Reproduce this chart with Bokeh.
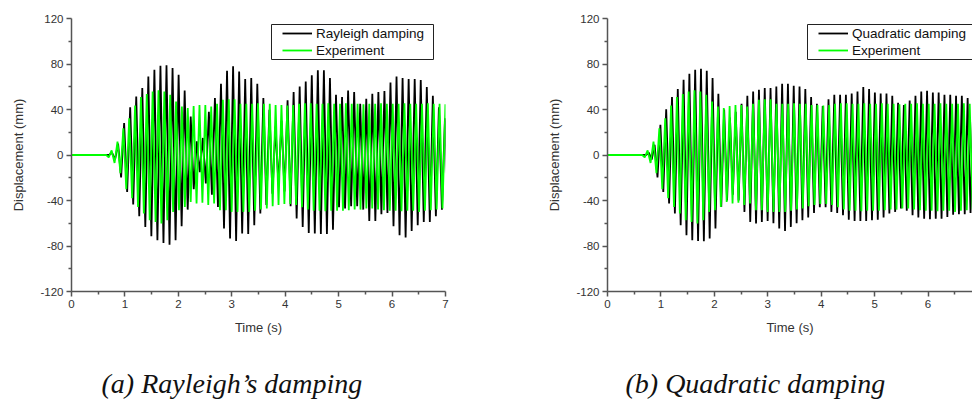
import numpy as np
from bokeh.plotting import figure
from bokeh.models import (FixedTicker, Legend, LegendItem, BoxAnnotation, Range1d, Title,
                          LinearAxis)
from bokeh.layouts import row
from bokeh.embed import file_html
from bokeh.resources import INLINE

# ---------------- data ----------------
x_ticks = [0, 1, 2, 3, 4, 5, 6, 7]
x_minor = [0.5, 1.5, 2.5, 3.5, 4.5, 5.5, 6.5]
y_ticks = [-120, -80, -40, 0, 40, 80, 120]
y_tick_labels = ["-120", "-80", "-40", "0", "40", "80", "120"]
y_minor = [-100, -60, -20, 20, 60, 100]

# Rayleigh damping model (black, panel a): onset, first main peak time, period
rayleigh_onset, rayleigh_t0, rayleigh_period = 0.70, 0.985, 0.1133
rayleigh_pre = [2, -4, 10, -19.7]
rayleigh_max = [28, 42, 51.5, 58.8, 69, 75, 78.5, 78.8, 76.5, 70.6, 56.7, 33.8, 12, 15, 38, 50,
                62.6, 74, 78, 73.5, 66.8, 67.6, 62.6, 50, 39.7, 25, 30, 48, 55.3, 60.3, 64.7, 70,
                74.4, 74.4, 67.6, 53, 51, 56.7, 55.3, 45, 49.4, 53.8, 55.3, 56.2, 63.8, 69, 67.6,
                66.8, 66.8, 66, 59.7, 52, 42, 32.3]
rayleigh_min = [-32.4, -43.5, -53.8, -63.2, -71.5, -75, -77.4, -78.8, -75, -62.6, -48, -30, -15,
                -25, -35, -45.6, -64.7, -73.5, -75.6, -69, -69.5, -61.8, -51.5, -44, -34, -26, -32,
                -45, -55.9, -63.2, -68.5, -69.1, -69.5, -69.5, -65.6, -46, -47, -45, -45, -48, -58,
                -58, -52, -51, -62.6, -70.6, -72.6, -66.8, -61.8, -58.8, -58.8, -53.8, -48, -45]

# Quadratic damping model (black, panel b)
quad_onset, quad_t0, quad_period = 0.72, 0.99, 0.1085
quad_pre = [2, -4, 9, -19.7]
quad_max = [26.5, 40.3, 51, 58, 66.2, 71.5, 75, 75.9, 74.1, 67.6, 53.8, 40, 33, 38, 45, 52, 55.9,
            57.4, 58.8, 58.8, 60.3, 62.6, 62.6, 60.9, 60.3, 58, 51, 45, 43, 49, 53, 53, 53, 54,
            55.9, 59.7, 58, 55, 54, 54, 52, 46, 44, 48, 52, 55.9, 56.5, 55, 55, 53, 53, 52, 52,
            50, 49, 48]
quad_min = [-32.4, -42.6, -51.5, -61.8, -70.6, -75, -75.6, -75.9, -73.5, -64.7, -45.6, -40, -35,
            -40, -50, -58.8, -60.3, -58.8, -58, -60, -64.7, -66.8, -63.2, -60, -57.4, -55, -51,
            -46, -46, -50, -51, -53, -56.8, -58, -58, -58, -57.4, -56.8, -55, -51.5, -50, -47,
            -49, -53, -55, -56, -56.5, -56, -56, -54.5, -52.4, -52, -52, -51, -50, -50]

# Experiment (green, both panels)
exp_onset, exp_t0, exp_period = 0.65, 0.861, 0.1096
exp_pre = [-2, 4, -7]
exp_max = [11.8, 23.5, 32.3, 43.5, 51, 53.5, 55.9, 56.8, 55.9, 53, 47, 42.6, 41.2, 43, 44, 44,
           42.6, 45, 48.5, 49, 49, 45, 45,
           45, 45.5, 45, 45, 44, 44, 43.5, 44, 45, 45.5, 45.5, 45, 45, 45.5, 45, 45, 45.5, 45,
           45, 44.5, 45, 45, 45.5, 45, 45, 45, 45.5, 45, 45, 45, 45.5, 45, 45, 44.5]
exp_min = [-16, -30, -38, -45.6, -51.5, -57.4, -58.8, -60.3, -57.4, -50, -48.5, -45.6, -41.2,
           -42.6, -42, -44, -42.6, -48.5, -48.5, -50, -50, -50, -50,
           -49, -48, -47, -45, -44, -43, -43, -44, -46, -48, -49, -49, -49.5, -49, -49, -49,
           -48.5, -48, -48, -47, -47, -48, -48.5, -49, -49, -49.5, -49, -49, -50, -49, -48.5,
           -48, -47, -46]


def build_series(onset, t_first, period, pre, maxima, minima):
    """Alternating extrema, placed every half period, with a flat start."""
    h = period / 2.0
    ext = list(pre) + [v for pair in zip(maxima, minima) for v in pair]
    n_pre = len(pre)
    times = [t_first + (i - n_pre) * h for i in range(len(ext))]
    return [0.0, onset] + times, [0.0, 0.0] + ext


AX_COLOR = "#555555"
TXT_COLOR = "#333333"
GREEN = "#00FF00"
PX_PER_S = 374 / 7.0


def make_panel(model_t, model_y, model_label, caption, frame_w, border_l, border_r,
               cap_offset, box_right):
    p = figure(frame_width=frame_w, frame_height=273,
               min_border_left=border_l, min_border_right=border_r,
               min_border_top=18, min_border_bottom=116,
               x_range=Range1d(0, frame_w / PX_PER_S), y_range=Range1d(-120, 120),
               output_backend="svg", toolbar_location=None)
    p.grid.visible = False
    p.outline_line_color = None
    p.background_fill_color = "white"
    p.border_fill_color = "white"

    p.xaxis.ticker = FixedTicker(ticks=x_ticks, minor_ticks=x_minor)
    p.yaxis.ticker = FixedTicker(ticks=y_ticks, minor_ticks=y_minor)
    p.yaxis.major_label_overrides = {t: l for t, l in zip(y_ticks, y_tick_labels)}
    for ax in (p.xaxis[0], p.yaxis[0]):
        ax.axis_line_color = AX_COLOR
        ax.axis_line_width = 1.5
        ax.major_tick_line_color = AX_COLOR
        ax.major_tick_line_width = 1.5
        ax.major_tick_out = 5
        ax.major_tick_in = 0
        ax.minor_tick_line_color = AX_COLOR
        ax.minor_tick_line_width = 1.5
        ax.minor_tick_out = 3
        ax.minor_tick_in = 0
        ax.major_label_text_font = "Liberation Sans"
        ax.major_label_text_font_size = "11.5px"
        ax.major_label_text_color = TXT_COLOR
        ax.major_label_standoff = 3
    p.xaxis.axis_label = "Time (s)"
    p.xaxis.axis_label_text_font = "Liberation Sans"
    p.xaxis.axis_label_text_font_size = "13px"
    p.xaxis.axis_label_text_font_style = "normal"
    p.xaxis.axis_label_text_color = TXT_COLOR
    p.xaxis.axis_label_standoff = 9

    # label-only axis, bounded so that its title sits where the reference has it
    lab_axis = LinearAxis(bounds=(-104, 120), ticker=FixedTicker(ticks=[]),
                          axis_line_color=None, major_tick_line_color=None,
                          minor_tick_line_color=None, major_label_text_font_size="0px",
                          axis_label="Displacement (mm)", axis_label_standoff=12,
                          axis_label_text_font="Liberation Sans",
                          axis_label_text_font_size="13px",
                          axis_label_text_font_style="normal",
                          axis_label_text_color=TXT_COLOR)
    p.add_layout(lab_axis, "left")

    et, ey = build_series(exp_onset, exp_t0, exp_period, exp_pre, exp_max, exp_min)
    rb = p.line(model_t, model_y, line_color="black", line_width=1.8)
    rg = p.line(et, ey, line_color=GREEN, line_width=1.8)

    box = BoxAnnotation(left=200, right=box_right, bottom=232, top=267,
                        left_units="screen", right_units="screen",
                        bottom_units="screen", top_units="screen",
                        fill_color="white", fill_alpha=1.0,
                        line_color="#222222", line_width=1, line_alpha=1.0)
    p.add_layout(box)
    legend = Legend(items=[LegendItem(label=model_label, renderers=[rb]),
                           LegendItem(label="Experiment", renderers=[rg])],
                    location=(211, 233), orientation="vertical", padding=0, spacing=1,
                    margin=0, glyph_width=30, glyph_height=16, label_height=16,
                    label_standoff=4, label_text_font="Liberation Sans",
                    label_text_font_size="13.5px", label_text_color="#111111",
                    background_fill_alpha=0, border_line_alpha=0)
    p.add_layout(legend)

    p.add_layout(Title(text=caption, align="left", offset=cap_offset, standoff=56,
                       text_font="Liberation Serif", text_font_style="italic",
                       text_font_size="28px", text_color="#111111"), "below")
    return p


rt, ry = build_series(rayleigh_onset, rayleigh_t0, rayleigh_period, rayleigh_pre,
                      rayleigh_max, rayleigh_min)
qt, qy = build_series(quad_onset, quad_t0, quad_period, quad_pre, quad_max, quad_min)

p1 = make_panel(rt, ry, "Rayleigh damping", "(a) Rayleigh\u2019s damping", 374, 71, 55, 30, 362)
p2 = make_panel(qt, qy, "Quadratic damping", "(b) Quadratic damping", 365, 107, 0, 18, 420)

layout = row(p1, p2)
open("out.html", "w").write(file_html(layout, INLINE))
